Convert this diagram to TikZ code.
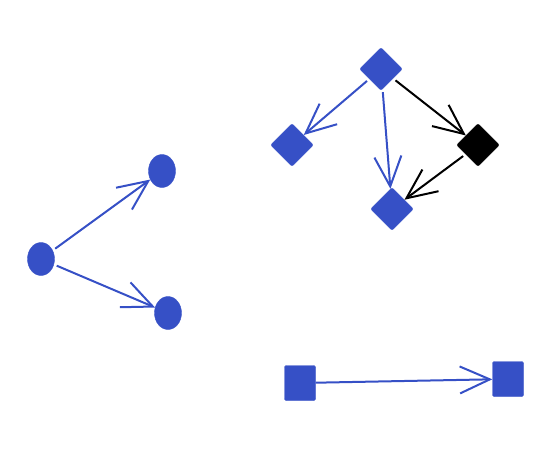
\documentclass[tikz,border=0pt]{standalone}
\usetikzlibrary{shapes.geometric,arrows.meta}
\definecolor{nb}{HTML}{3650C6}
\tikzset{
  ell/.style={ellipse,fill=nb,draw=nb,minimum width=27pt,minimum height=33pt,inner sep=0pt},
  dia/.style={diamond,fill=#1,draw=#1,minimum width=43pt,minimum height=43pt,inner sep=0pt,rounded corners=2pt},
  sq/.style={rectangle,fill=nb,draw=nb,minimum width=31pt,minimum height=35pt,inner sep=0pt,rounded corners=1.5pt},
  con/.style={draw=#1,line width=2pt,-{Straight Barb[length=30pt,width=27pt,line width=2pt]},shorten <=3pt},
}
\begin{document}
\begin{tikzpicture}[x=1pt,y=-1pt]
\useasboundingbox (0,0) rectangle (558,456);
\node[ell] (a) at (41,259) {};
\node[ell] (b) at (162,171) {};
\node[ell] (c) at (168,313) {};
\node[dia=nb] (t) at (381,69) {};
\node[dia=nb] (l) at (292,145) {};
\node[dia=black] (k) at (478,145) {};
\node[dia=nb] (m) at (392,209) {};
\node[sq] (s1) at (300,383) {};
\node[sq] (s2) at (508,379) {};
\draw[con=nb] (a) -- (b);
\draw[con=nb] (a) -- (c);
\draw[con=nb] (t) -- (l);
\draw[con=nb] (t) -- (m);
\draw[con=black] (t) -- (k);
\draw[con=black] (k) -- (m);
\draw[con=nb,shorten <=0pt] (s1) -- (s2);
\end{tikzpicture}
\end{document}
